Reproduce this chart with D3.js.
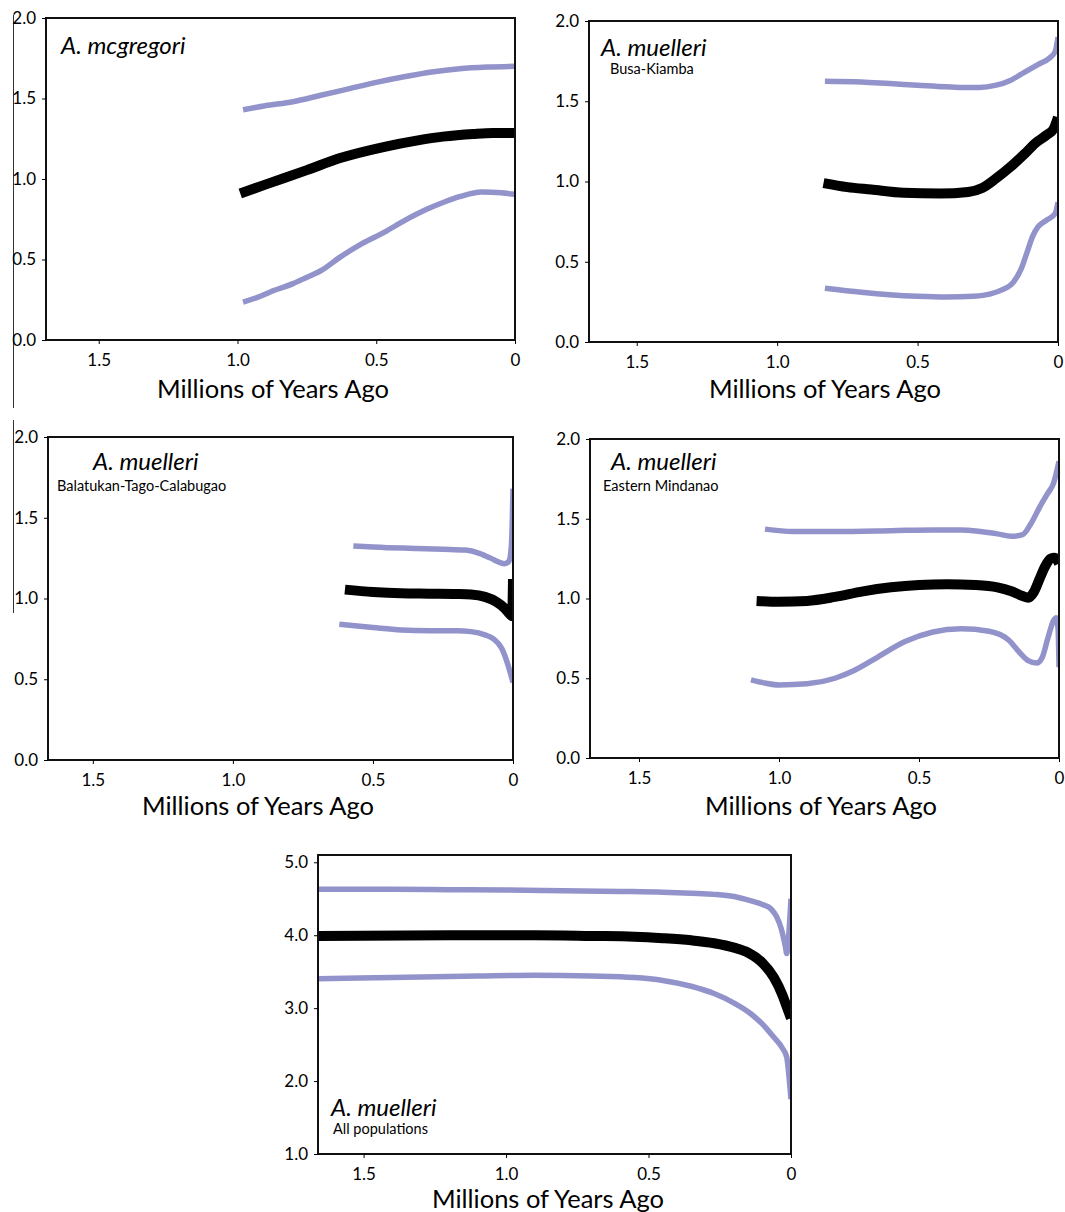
<!DOCTYPE html>
<html>
<head>
<meta charset="utf-8">
<script src="https://cdn.jsdelivr.net/npm/d3@7"></script>
<style>
  body { margin: 0; background: #fff; }
  text { font-family: Lato, "Open Sans", sans-serif; fill: #000; }
</style>
</head>
<body>
<svg id="fig" width="1065" height="1212"></svg>
<script>
/* DATA: [millions of years ago, value] */

// A. mcgregori
const mcgMedian = [[0.99,0.91],[0.9,0.965],[0.75,1.055],[0.63,1.13],[0.47,1.2],[0.35,1.24],[0.26,1.263],[0.15,1.28],[0.08,1.286],[0,1.285]];
const mcgUpper  = [[0.98,1.43],[0.9,1.455],[0.8,1.48],[0.7,1.52],[0.6,1.56],[0.5,1.6],[0.4,1.635],[0.3,1.665],[0.2,1.685],[0.1,1.695],[0,1.7]];
const mcgLower  = [[0.98,0.235],[0.92,0.27],[0.88,0.3],[0.8,0.35],[0.75,0.39],[0.7,0.43],[0.63,0.515],[0.55,0.6],[0.47,0.67],[0.4,0.74],[0.32,0.81],[0.25,0.86],[0.2,0.89],[0.12,0.92],[0.05,0.915],[0,0.905]];

// A. muelleri, Busa-Kiamba
const busaMedian = [[0.835,0.99],[0.75,0.965],[0.665,0.95],[0.55,0.93],[0.42,0.925],[0.32,0.935],[0.27,0.96],[0.22,1.02],[0.17,1.09],[0.12,1.17],[0.08,1.24],[0.04,1.29],[0.015,1.33],[0,1.4]];
const busaUpper  = [[0.83,1.625],[0.7,1.62],[0.6,1.61],[0.5,1.6],[0.4,1.59],[0.33,1.585],[0.28,1.585],[0.22,1.6],[0.17,1.63],[0.12,1.68],[0.07,1.73],[0.03,1.77],[0.01,1.81],[0,1.9]];
const busaLower  = [[0.83,0.335],[0.7,0.31],[0.6,0.295],[0.5,0.285],[0.4,0.28],[0.3,0.285],[0.24,0.3],[0.2,0.325],[0.16,0.37],[0.13,0.46],[0.11,0.56],[0.09,0.66],[0.07,0.72],[0.04,0.76],[0.01,0.8],[0,0.87]];

// A. muelleri, Balatukan-Tago-Calabugao
const balMedian = [[0.6,1.055],[0.5,1.04],[0.4,1.032],[0.3,1.03],[0.2,1.028],[0.15,1.025],[0.1,1.01],[0.06,0.98],[0.03,0.94],[0.01,0.9],[0.003,0.89],[0,1.12]];
const balUpper  = [[0.57,1.325],[0.45,1.315],[0.35,1.31],[0.25,1.305],[0.17,1.3],[0.12,1.28],[0.08,1.25],[0.05,1.225],[0.03,1.215],[0.015,1.23],[0.007,1.3],[0.003,1.45],[0,1.68]];
const balLower  = [[0.62,0.84],[0.5,0.82],[0.4,0.805],[0.3,0.8],[0.2,0.8],[0.15,0.795],[0.1,0.775],[0.07,0.75],[0.04,0.69],[0.02,0.6],[0,0.48]];

// A. muelleri, Eastern Mindanao
const eastMedian = [[1.08,0.985],[1.0,0.98],[0.9,0.985],[0.8,1.01],[0.7,1.045],[0.6,1.07],[0.5,1.085],[0.4,1.09],[0.3,1.085],[0.22,1.07],[0.17,1.045],[0.13,1.015],[0.11,1.005],[0.09,1.04],[0.07,1.12],[0.05,1.2],[0.03,1.25],[0.015,1.255],[0,1.22]];
const eastUpper  = [[1.05,1.435],[0.95,1.42],[0.8,1.42],[0.6,1.425],[0.45,1.43],[0.35,1.43],[0.28,1.42],[0.22,1.405],[0.17,1.39],[0.13,1.4],[0.1,1.47],[0.07,1.57],[0.04,1.66],[0.02,1.72],[0,1.86]];
const eastLower  = [[1.1,0.49],[1.05,0.47],[1.0,0.458],[0.9,0.465],[0.8,0.5],[0.73,0.55],[0.65,0.63],[0.55,0.73],[0.45,0.79],[0.35,0.81],[0.25,0.795],[0.18,0.74],[0.14,0.66],[0.11,0.61],[0.08,0.595],[0.06,0.63],[0.04,0.75],[0.02,0.86],[0.01,0.88],[0.003,0.8],[0,0.57]];

// A. muelleri, all populations
const allMedian = [[1.7,3.99],[1.2,4.0],[0.9,4.0],[0.7,3.99],[0.55,3.98],[0.45,3.96],[0.35,3.93],[0.27,3.89],[0.2,3.83],[0.15,3.76],[0.1,3.62],[0.06,3.42],[0.03,3.18],[0.015,3.02],[0,2.86]];
const allUpper  = [[1.7,4.63],[1.4,4.63],[1.2,4.625],[1.0,4.62],[0.8,4.61],[0.6,4.6],[0.45,4.59],[0.35,4.575],[0.27,4.56],[0.2,4.53],[0.14,4.47],[0.1,4.42],[0.07,4.36],[0.05,4.25],[0.035,4.1],[0.02,3.85],[0.015,3.75],[0.008,4.0],[0,4.5]];
const allLower  = [[1.7,3.4],[1.4,3.42],[1.1,3.44],[0.9,3.45],[0.7,3.44],[0.55,3.42],[0.45,3.38],[0.35,3.3],[0.27,3.2],[0.2,3.07],[0.14,2.92],[0.1,2.78],[0.06,2.6],[0.03,2.45],[0.015,2.33],[0.008,2.1],[0,1.75]];

// tick labels
const xTicks = [1.5, 1.0, 0.5, 0];
const yTicksSmall = [0, 0.5, 1.0, 1.5, 2.0];
const yTicksAll = [1, 2, 3, 4, 5];

const speciesNames = ["A. mcgregori", "A. muelleri", "A. muelleri", "A. muelleri", "A. muelleri"];
const populationNames = ["", "Busa-Kiamba", "Balatukan-Tago-Calabugao", "Eastern Mindanao", "All populations"];
const xTitle = "Millions of Years Ago";

/* LAYOUT */
const panels = [
  { left: 46,  right: 515,  top: 18,  bottom: 340,  xMax: 1.69,  yDom: [0, 2],   yTicks: yTicksSmall,
    series: [mcgUpper, mcgLower, mcgMedian], lab: [61, 54], sub: [0, 0], titleX: 273, titleY: 398 },
  { left: 589, right: 1058, top: 21,  bottom: 342,  xMax: 1.67,  yDom: [0, 2],   yTicks: yTicksSmall,
    series: [busaUpper, busaLower, busaMedian], lab: [601, 56], sub: [610, 74], titleX: 825, titleY: 398 },
  { left: 48,  right: 513,  top: 437, bottom: 760,  xMax: 1.66,  yDom: [0, 2],   yTicks: yTicksSmall,
    series: [balUpper, balLower, balMedian], lab: [93, 470], sub: [57, 491], titleX: 258, titleY: 815 },
  { left: 590, right: 1059, top: 439, bottom: 758,  xMax: 1.675, yDom: [0, 2],   yTicks: yTicksSmall,
    series: [eastUpper, eastLower, eastMedian], lab: [611, 470], sub: [603, 491], titleX: 821, titleY: 815 },
  { left: 318, right: 791,  top: 855, bottom: 1154, xMax: 1.66,  yDom: [1, 5.1], yTicks: yTicksAll,
    series: [allUpper, allLower, allMedian], lab: [331, 1116], sub: [333, 1134], titleX: 548, titleY: 1208 }
];

const svg = d3.select("#fig");

// stray crop edge on the left of the original figure
svg.append("line").attr("x1", 13.5).attr("x2", 13.5).attr("y1", 15).attr("y2", 408)
  .attr("stroke", "#333").attr("stroke-width", 1);
svg.append("line").attr("x1", 13.5).attr("x2", 13.5).attr("y1", 420).attr("y2", 613)
  .attr("stroke", "#333").attr("stroke-width", 1);

panels.forEach((p, i) => {
  const x = d3.scaleLinear().domain([p.xMax, 0]).range([p.left, p.right]);
  const y = d3.scaleLinear().domain(p.yDom).range([p.bottom, p.top]);

  const g = svg.append("g");

  g.append("clipPath").attr("id", "clip" + i)
    .append("rect")
      .attr("x", p.left).attr("y", p.top)
      .attr("width", p.right - p.left).attr("height", p.bottom - p.top);

  const line = d3.line()
    .x(d => x(d[0]))
    .y(d => y(d[1]))
    .curve(d3.curveMonotoneX);

  // credible interval lines, then median
  g.selectAll(".series")
    .data(p.series)
    .join("path")
      .attr("class", "series")
      .attr("clip-path", `url(#clip${i})`)
      .attr("d", line)
      .attr("fill", "none")
      .attr("stroke", (d, j) => j === 2 ? "#000" : "#9393cb")
      .attr("stroke-width", (d, j) => j === 2 ? 10 : 5.5)
      .attr("stroke-linejoin", "round");

  // frame
  g.append("rect")
    .attr("x", p.left).attr("y", p.top)
    .attr("width", p.right - p.left).attr("height", p.bottom - p.top)
    .attr("fill", "none").attr("stroke", "#111").attr("stroke-width", 2);

  // x axis
  const xAxis = g.append("g")
    .attr("transform", `translate(0,${p.bottom})`)
    .call(d3.axisBottom(x).tickValues(xTicks).tickSize(4).tickPadding(10)
      .tickFormat(d => d === 0 ? "0" : d3.format(".1f")(d)));
  xAxis.select(".domain").remove();
  xAxis.selectAll("text").style("font-size", "17px");

  // y axis
  const yAxis = g.append("g")
    .attr("transform", `translate(${p.left},0)`)
    .call(d3.axisLeft(y).tickValues(p.yTicks).tickSize(4).tickPadding(6)
      .tickFormat(d3.format(".1f")));
  yAxis.select(".domain").remove();
  yAxis.selectAll("text").style("font-size", "17px");

  // axis title
  g.append("text")
    .attr("x", p.titleX).attr("y", p.titleY)
    .attr("text-anchor", "middle")
    .style("font-size", "25.5px")
    .text(xTitle);

  // species and population labels
  g.append("text")
    .attr("x", p.lab[0]).attr("y", p.lab[1])
    .style("font-size", "24px").style("font-style", "italic")
    .text(speciesNames[i]);

  if (populationNames[i]) {
    g.append("text")
      .attr("x", p.sub[0]).attr("y", p.sub[1])
      .style("font-size", "14.5px")
      .text(populationNames[i]);
  }
});
</script>
</body>
</html>
